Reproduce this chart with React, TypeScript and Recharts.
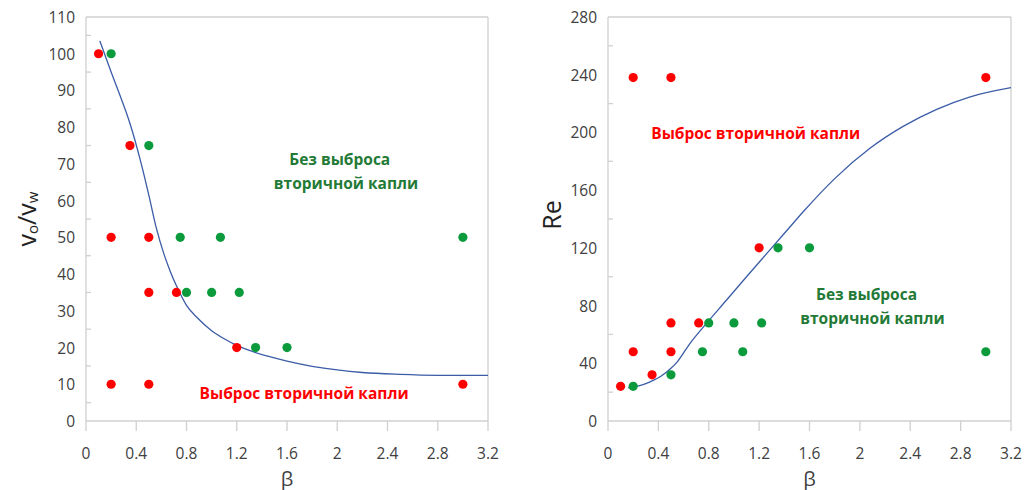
import React from 'react';
import { ScatterChart, Scatter, XAxis, YAxis, ReferenceLine, ReferenceDot, Label } from 'recharts';

const betaTicks = [0, 0.4, 0.8, 1.2, 1.6, 2, 2.4, 2.8, 3.2];
const velTicks = [0, 5, 10, 15, 20, 25, 30, 35, 40, 45, 50, 55, 60, 65, 70, 75, 80, 85, 90, 95, 100, 105, 110];
const reTicks = [0, 20, 40, 60, 80, 100, 120, 140, 160, 180, 200, 220, 240, 260, 280];

const velEjection = [
  { x: 0.1, y: 100 }, { x: 0.35, y: 75 }, { x: 0.2, y: 50 }, { x: 0.5, y: 50 },
  { x: 0.5, y: 35 }, { x: 0.72, y: 35 }, { x: 1.2, y: 20 }, { x: 0.2, y: 10 },
  { x: 0.5, y: 10 }, { x: 3.0, y: 10 },
];
const velNoEjection = [
  { x: 0.2, y: 100 }, { x: 0.5, y: 75 }, { x: 0.75, y: 50 }, { x: 1.07, y: 50 },
  { x: 3.0, y: 50 }, { x: 0.8, y: 35 }, { x: 1.0, y: 35 }, { x: 1.22, y: 35 },
  { x: 1.35, y: 20 }, { x: 1.6, y: 20 },
];
const velBoundary = [
  { x: 0.11, y: 103.5 }, { x: 0.2, y: 95 }, { x: 0.28, y: 87.8 }, { x: 0.35, y: 81 },
  { x: 0.44, y: 70 }, { x: 0.5, y: 61.5 }, { x: 0.56, y: 52.5 }, { x: 0.62, y: 45.5 },
  { x: 0.67, y: 40.8 }, { x: 0.72, y: 36.8 }, { x: 0.8, y: 31.5 }, { x: 0.88, y: 28.3 },
  { x: 1.0, y: 24.6 }, { x: 1.1, y: 22.4 }, { x: 1.2, y: 20.6 }, { x: 1.3, y: 19.2 },
  { x: 1.44, y: 17.7 }, { x: 1.6, y: 16.3 }, { x: 1.8, y: 14.9 }, { x: 2.0, y: 13.9 },
  { x: 2.2, y: 13.2 }, { x: 2.5, y: 12.7 }, { x: 2.8, y: 12.45 }, { x: 3.2, y: 12.4 },
];

const reEjection = [
  { x: 0.1, y: 24 }, { x: 0.2, y: 48 }, { x: 0.35, y: 32 }, { x: 0.5, y: 48 },
  { x: 0.5, y: 68 }, { x: 0.72, y: 68 }, { x: 1.2, y: 120 }, { x: 0.2, y: 238 },
  { x: 0.5, y: 238 }, { x: 3.0, y: 238 },
];
const reNoEjection = [
  { x: 0.2, y: 24 }, { x: 0.5, y: 32 }, { x: 0.75, y: 48 }, { x: 0.8, y: 68 },
  { x: 1.0, y: 68 }, { x: 1.07, y: 48 }, { x: 1.22, y: 68 }, { x: 1.35, y: 120 },
  { x: 1.6, y: 120 }, { x: 3.0, y: 48 },
];
const reBoundary = [
  { x: 0.16, y: 23 }, { x: 0.25, y: 24.5 }, { x: 0.33, y: 27 }, { x: 0.42, y: 31 },
  { x: 0.5, y: 36.5 }, { x: 0.55, y: 41 }, { x: 0.65, y: 53.7 }, { x: 0.78, y: 67.5 },
  { x: 0.94, y: 83.7 }, { x: 1.1, y: 100 }, { x: 1.26, y: 116 }, { x: 1.42, y: 132 },
  { x: 1.55, y: 145 }, { x: 1.8, y: 168 }, { x: 2.08, y: 189 }, { x: 2.34, y: 204 },
  { x: 2.61, y: 216 }, { x: 2.87, y: 224.5 }, { x: 3.2, y: 231 },
];

const velNotesNo = [
  { x: 2.02, y: 71.3, text: 'Без выброса' },
  { x: 2.07, y: 64.8, text: 'вторичной капли' },
];
const velNotesYes = [{ x: 1.736, y: 7.5, text: 'Выброс вторичной капли' }];
const reNotesYes = [{ x: 1.173, y: 199.5, text: 'Выброс вторичной капли' }];
const reNotesNo = [
  { x: 2.053, y: 87.8, text: 'Без выброса' },
  { x: 2.1, y: 71.2, text: 'вторичной капли' },
];

const FONT = '"Open Sans", "Noto Sans", sans-serif';
const AXIS = '#d0d0d0';
const TEXT = '#404040';
const RED = '#ff0000';
const GREEN_DOT = '#0b9b3c';
const GREEN_TEXT = '#237a36';
const BLUE = '#3b5ca6';

const makeYTick = (labelStep: number) => (props: any) => {
  const { x, y, payload } = props;
  const v = payload.value;
  const isLabel = Math.abs(v / labelStep - Math.round(v / labelStep)) < 1e-6;
  if (isLabel) {
    return (
      <text x={x - 11} y={y} textAnchor="end" dominantBaseline="central" fontFamily={FONT} fontSize={15.5} fill={TEXT}>
        {v}
      </text>
    );
  }
  return <line x1={x} x2={x + 5} y1={y} y2={y} stroke={AXIS} strokeWidth={1.3} />;
};

const XTick = (props: any) => {
  const { x, y, payload } = props;
  return (
    <g>
      <line x1={x} x2={x} y1={y} y2={y + 10} stroke={AXIS} strokeWidth={1.3} />
      <text x={x} y={y + 32} textAnchor="middle" dominantBaseline="central" fontFamily={FONT} fontSize={15.5} fill={TEXT}>
        {String(payload.value)}
      </text>
    </g>
  );
};

const dot = (color: string) => (props: any) => <circle cx={props.cx} cy={props.cy} r={4.6} fill={color} />;
const noShape = () => <g />;

const note = (text: string, color: string) => (props: any) => (
  <text x={props.cx} y={props.cy} textAnchor="middle" dominantBaseline="central" fontFamily={FONT} fontWeight={700} fontSize={15.5} fill={color}>
    {text}
  </text>
);

const BetaLabel = (props: any) => {
  const vb = props.viewBox;
  return (
    <text x={vb.x + vb.width / 2} y={vb.y + 57} textAnchor="middle" dominantBaseline="central" fontFamily={FONT} fontSize={20} fill={TEXT}>
      β
    </text>
  );
};

const VelLabel = (props: any) => {
  const vb = props.viewBox;
  const cx = vb.x + 26;
  const cy = vb.y + vb.height / 2;
  return (
    <text x={cx} y={cy} transform={`rotate(-90, ${cx}, ${cy})`} textAnchor="middle" dominantBaseline="central" fontFamily={FONT} fontSize={25} fill="#222">
      <tspan>v</tspan>
      <tspan fontSize={15} dy={6}>o</tspan>
      <tspan dy={-6}>/v</tspan>
      <tspan fontSize={15} dy={6}>w</tspan>
    </text>
  );
};

const ReLabel = (props: any) => {
  const vb = props.viewBox;
  const cx = vb.x + 31;
  const cy = vb.y + vb.height / 2 - 4;
  return (
    <text x={cx} y={cy} transform={`rotate(-90, ${cx}, ${cy})`} textAnchor="middle" dominantBaseline="central" fontFamily={FONT} fontSize={25} fill="#222">
      Re
    </text>
  );
};

export default function App() {
  return (
    <div style={{ position: 'absolute', left: 0, top: 0, width: 1026, height: 490, background: '#fff' }}>
      <div style={{ position: 'absolute', left: 0, top: 0 }}>
        <ScatterChart width={500} height={490} margin={{ top: 17, right: 12, bottom: 29, left: 0 }}>
          <XAxis type="number" dataKey="x" domain={[0, 3.2]} ticks={betaTicks} interval={0} height={40}
            stroke={AXIS} strokeWidth={1.3} tickLine={false} tickSize={0} tickMargin={0} tick={XTick} allowDataOverflow>
            <Label content={BetaLabel} />
          </XAxis>
          <YAxis type="number" dataKey="y" domain={[0, 110]} ticks={velTicks} interval={0} width={86}
            stroke={AXIS} strokeWidth={1.3} tickLine={false} tickSize={0} tickMargin={0} tick={makeYTick(10)} allowDataOverflow>
            <Label content={VelLabel} />
          </YAxis>
          <ReferenceLine y={110} stroke={AXIS} strokeWidth={1.3} />
          <ReferenceLine x={3.2} stroke={AXIS} strokeWidth={1.3} />
          <Scatter data={velBoundary} shape={noShape} line={{ stroke: BLUE, strokeWidth: 1.3 }} lineJointType="monotoneX" isAnimationActive={false} />
          <Scatter data={velEjection} shape={dot(RED)} isAnimationActive={false} />
          <Scatter data={velNoEjection} shape={dot(GREEN_DOT)} isAnimationActive={false} />
          {velNotesNo.map((n, i) => (
            <ReferenceDot key={'a' + i} x={n.x} y={n.y} r={0} shape={note(n.text, GREEN_TEXT)} />
          ))}
          {velNotesYes.map((n, i) => (
            <ReferenceDot key={'b' + i} x={n.x} y={n.y} r={0} shape={note(n.text, RED)} />
          ))}
        </ScatterChart>
      </div>
      <div style={{ position: 'absolute', left: 520, top: 0 }}>
        <ScatterChart width={506} height={490} margin={{ top: 17, right: 15, bottom: 29, left: 0 }}>
          <XAxis type="number" dataKey="x" domain={[0, 3.2]} ticks={betaTicks} interval={0} height={40}
            stroke={AXIS} strokeWidth={1.3} tickLine={false} tickSize={0} tickMargin={0} tick={XTick} allowDataOverflow>
            <Label content={BetaLabel} />
          </XAxis>
          <YAxis type="number" dataKey="y" domain={[0, 280]} ticks={reTicks} interval={0} width={88}
            stroke={AXIS} strokeWidth={1.3} tickLine={false} tickSize={0} tickMargin={0} tick={makeYTick(40)} allowDataOverflow>
            <Label content={ReLabel} />
          </YAxis>
          <ReferenceLine y={280} stroke={AXIS} strokeWidth={1.3} />
          <ReferenceLine x={3.2} stroke={AXIS} strokeWidth={1.3} />
          <Scatter data={reBoundary} shape={noShape} line={{ stroke: BLUE, strokeWidth: 1.3 }} lineJointType="monotoneX" isAnimationActive={false} />
          <Scatter data={reEjection} shape={dot(RED)} isAnimationActive={false} />
          <Scatter data={reNoEjection} shape={dot(GREEN_DOT)} isAnimationActive={false} />
          {reNotesYes.map((n, i) => (
            <ReferenceDot key={'c' + i} x={n.x} y={n.y} r={0} shape={note(n.text, RED)} />
          ))}
          {reNotesNo.map((n, i) => (
            <ReferenceDot key={'d' + i} x={n.x} y={n.y} r={0} shape={note(n.text, GREEN_TEXT)} />
          ))}
        </ScatterChart>
      </div>
    </div>
  );
}
